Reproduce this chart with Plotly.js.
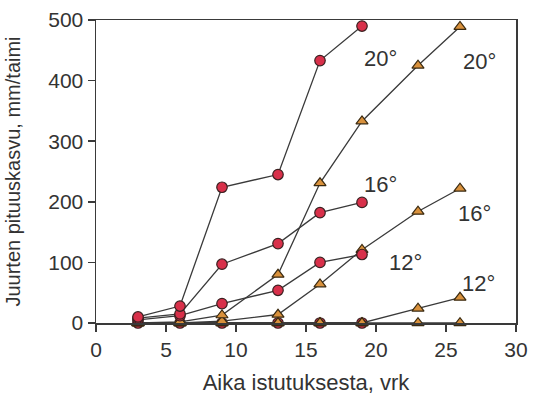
<!DOCTYPE html>
<html><head><meta charset="utf-8">
<script src="https://cdn.plot.ly/plotly-3.0.1.min.js"></script>
<style>body{margin:0;background:#fff}#c{width:533px;height:399px}</style>
</head><body><div id="c"></div>
<script>
// Circles (red)
const daysA = [3, 6, 9, 13, 16, 19];
const circ20 = [10, 28, 224, 245, 433, 490];
const circ16 = [8, 15, 97, 131, 182, 199];
const circ12 = [5, 12, 32, 54, 100, 113];
const circ8  = [0, 0, 0, 0, 0, 0];
// Triangles (orange)
const daysB = [3, 6, 9, 13, 16, 19, 23, 26];
const tri20 = [0, 2, 13, 80, 231, 333, 425, 489];
const tri16 = [0, 0, 3, 14, 64, 121, 184, 222];
const tri12 = [0, 0, 0, 0, 0, 0, 24, 42];
const tri8  = [0, 0, 0, 0, 0, 0, 0, 0];
const xTicks = [0, 5, 10, 15, 20, 25, 30];
const yTicks = [0, 100, 200, 300, 400, 500];
const labels = [
  {t: '20°', x: 20.3, y: 437}, {t: '20°', x: 27.4, y: 431},
  {t: '16°', x: 20.3, y: 228}, {t: '16°', x: 27.0, y: 181},
  {t: '12°', x: 22.1, y: 100}, {t: '12°', x: 27.3, y: 66}
];

const lineC = '#3a3a3a';
function circ(y){ return {x: daysA, y: y, mode: 'lines+markers', cliponaxis: false,
  line: {color: lineC, width: 1.3},
  marker: {symbol: 'circle', size: 10.5, color: '#d8304a', line: {color: '#3a2020', width: 1.2}}}; }
function tri(y){ return {x: daysB, y: y, mode: 'lines+markers', cliponaxis: false,
  line: {color: lineC, width: 1.3},
  marker: {symbol: 'triangle-up', size: 10.5, color: '#d9913c', line: {color: '#3a2a10', width: 1.2}}}; }

const data = [circ(circ8), tri(tri8), tri(tri12), tri(tri16), tri(tri20), circ(circ12), circ(circ16), circ(circ20)];

const font = {family: 'Liberation Sans, Arial, sans-serif', color: '#333', size: 18};
const layout = {
  width: 533, height: 399, showlegend: false,
  paper_bgcolor: '#fff', plot_bgcolor: '#fff',
  margin: {l: 96, r: 17, t: 20, b: 76},
  font: font,
  xaxis: {range: [0, 30], tickvals: xTicks, ticks: 'outside', ticklen: 7, tickwidth: 1.5, tickcolor: lineC,
    showline: true, linecolor: lineC, linewidth: 1.5, mirror: true, showgrid: false, zeroline: false,
    tickfont: {size: 21}, title: {text: 'Aika istutuksesta, vrk', font: {size: 22}, standoff: 15}},
  yaxis: {range: [0, 500], tickvals: yTicks, ticks: 'outside', ticklen: 7, tickwidth: 1.5, tickcolor: lineC,
    showline: true, linecolor: lineC, linewidth: 1.5, mirror: true, showgrid: false, zeroline: false,
    tickfont: {size: 21}, title: {text: 'Juurten pituuskasvu, mm/taimi', font: {size: 20}, standoff: 22}},
  annotations: labels.map(a => ({x: a.x, y: a.y, text: a.t, showarrow: false, font: {size: 22, color: '#333'}}))
};
Plotly.newPlot('c', data, layout, {displayModeBar: false, staticPlot: true});
</script></body></html>
